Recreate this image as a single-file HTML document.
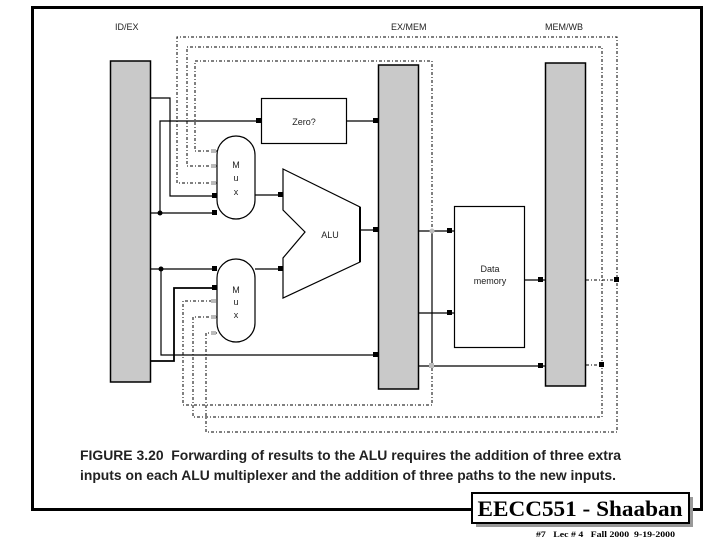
<!DOCTYPE html>
<html><head><style>
html,body{margin:0;padding:0;background:#fff;}
svg{display:block;}
</style></head><body>
<svg width="720" height="540" viewBox="0 0 720 540" xmlns="http://www.w3.org/2000/svg">
<rect x="0" y="0" width="720" height="540" fill="#fff"/>
<rect x="32.5" y="7.5" width="669" height="502" fill="none" stroke="#000" stroke-width="3"/>
<g font-family="Liberation Sans, sans-serif" font-size="9" fill="#222">
<text x="115" y="30">ID/EX</text>
<text x="391" y="30">EX/MEM</text>
<text x="545" y="30">MEM/WB</text>
</g>
<g fill="#c9c9c9" stroke="#000" stroke-width="1.5">
<rect x="110.5" y="61" width="40" height="321"/>
<rect x="378.5" y="65" width="40" height="324"/>
<rect x="545.5" y="63" width="40" height="323"/>
</g>
<g fill="none" stroke="#000" stroke-width="1" stroke-dasharray="3,2,1,2">
<polyline points="217,151 195,151 195,61 432,61 432,405 183,405 183,301 217,301"/>
<polyline points="217,166 187,166 187,47 602,47 602,417 193,417 193,317 217,317"/>
<polyline points="217,183 177,183 177,37 617,37 617,432 206,432 206,333 217,333"/>
<line x1="586" y1="280" x2="617" y2="280"/>
<line x1="586" y1="365" x2="602" y2="365"/>
</g>
<g fill="none" stroke="#000" stroke-width="1.2">
<polyline points="151,98 170,98 170,196 217,196"/>
<line x1="151" y1="213" x2="217" y2="213"/>
<polyline points="160,213 160,121 261,121"/>
<line x1="255" y1="195" x2="283" y2="195"/>
<line x1="346" y1="121" x2="378" y2="121"/>
<line x1="360" y1="230" x2="378" y2="230"/>
<line x1="151" y1="269" x2="217" y2="269"/>
<polyline points="161,269 161,355 378,355"/>
<polyline points="151,361 174,361 174,288 217,288" stroke-width="1.8"/>
<line x1="255" y1="269" x2="283" y2="269"/>
<line x1="418" y1="231" x2="454" y2="231"/>
<line x1="418" y1="313" x2="454" y2="313"/>
<line x1="418" y1="366" x2="545" y2="366"/>
<line x1="432" y1="231" x2="432" y2="366"/>
<line x1="524" y1="280" x2="545" y2="280"/>
</g>
<g fill="#000">
<circle cx="160" cy="213" r="2.5"/>
<circle cx="161" cy="269" r="2.5"/>
<rect x="256" y="118" width="5" height="5"/>
<rect x="212" y="193" width="5" height="5"/>
<rect x="212" y="210" width="5" height="5"/>
<rect x="278" y="192" width="5" height="5"/>
<rect x="373" y="118" width="5" height="5"/>
<rect x="373" y="227" width="5" height="5"/>
<rect x="212" y="266" width="5" height="5"/>
<rect x="212" y="285" width="5" height="5"/>
<rect x="278" y="266" width="5" height="5"/>
<rect x="373" y="352" width="5" height="5"/>
<rect x="447" y="228" width="5" height="5"/>
<rect x="447" y="310" width="5" height="5"/>
<rect x="538" y="277" width="5" height="5"/>
<rect x="538" y="363" width="5" height="5"/>
<rect x="614" y="277" width="5" height="5"/>
<rect x="599" y="362" width="5" height="5"/>
</g>
<g fill="#bbb">
<circle cx="432" cy="231" r="2.5"/>
<rect x="429" y="363" width="5" height="5"/>
<rect x="211" y="149" width="5" height="4"/>
<rect x="211" y="164" width="5" height="4"/>
<rect x="211" y="181" width="5" height="4"/>
<rect x="211" y="299" width="5" height="4"/>
<rect x="211" y="315" width="5" height="4"/>
<rect x="211" y="331" width="5" height="4"/>
</g>
<rect x="261.5" y="98.5" width="85" height="45" fill="#fff" stroke="#000" stroke-width="1.2"/>
<text x="304" y="125" text-anchor="middle" font-family="Liberation Sans, sans-serif" font-size="9" fill="#222">Zero?</text>
<rect x="217" y="136" width="38" height="83" rx="19" ry="19" fill="#fff" stroke="#000" stroke-width="1.2"/>
<rect x="217" y="259" width="38" height="83" rx="19" ry="19" fill="#fff" stroke="#000" stroke-width="1.2"/>
<g font-family="Liberation Sans, sans-serif" font-size="9" fill="#222" text-anchor="middle">
<text x="236" y="168">M</text><text x="236" y="181">u</text><text x="236" y="195">x</text>
<text x="236" y="293">M</text><text x="236" y="305">u</text><text x="236" y="318">x</text>
</g>
<polygon points="283,169 360,207 360,262 283,298 283,258 305,232 283,210" fill="#fff" stroke="#000" stroke-width="1.2"/>
<line x1="360" y1="207" x2="360" y2="262" stroke="#000" stroke-width="2"/>
<text x="330" y="238" text-anchor="middle" font-family="Liberation Sans, sans-serif" font-size="9" fill="#222">ALU</text>
<rect x="454.5" y="206.5" width="70" height="141" fill="#fff" stroke="#000" stroke-width="1.2"/>
<text x="490" y="272" text-anchor="middle" font-family="Liberation Sans, sans-serif" font-size="9" fill="#222">Data</text>
<text x="490" y="284" text-anchor="middle" font-family="Liberation Sans, sans-serif" font-size="9" fill="#222">memory</text>
<g font-family="Liberation Sans, sans-serif" font-size="13.5" font-weight="bold" fill="#222">
<text x="80" y="460" textLength="541" lengthAdjust="spacingAndGlyphs">FIGURE 3.20&#160; Forwarding of results to the ALU requires the addition of three extra</text>
<text x="80" y="480" textLength="536" lengthAdjust="spacingAndGlyphs">inputs on each ALU multiplexer and the addition of three paths to the new inputs.</text>
</g>
<rect x="476" y="497" width="217" height="30" fill="#999"/>
<rect x="472" y="493" width="217" height="30" fill="#fff" stroke="#000" stroke-width="2"/>
<text x="580" y="516" text-anchor="middle" font-family="Liberation Serif, serif" font-size="22" font-weight="bold" fill="#000" textLength="205" lengthAdjust="spacingAndGlyphs">EECC551 - Shaaban</text>
<text x="536" y="537" font-family="Liberation Serif, serif" font-size="8.5" font-weight="bold" fill="#000" textLength="139" lengthAdjust="spacingAndGlyphs">#7&#160;&#160; Lec # 4&#160;&#160; Fall 2000&#160; 9-19-2000</text>
</svg>
</body></html>
